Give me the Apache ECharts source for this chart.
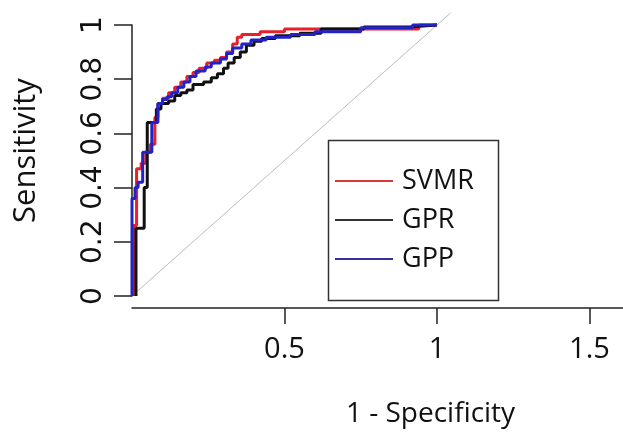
<!DOCTYPE html>
<html><head><meta charset="utf-8">
<script src="https://cdn.jsdelivr.net/npm/echarts@6/dist/echarts.min.js"></script>
<style>html,body{margin:0;padding:0;background:#fff}#c{width:623px;height:433px}</style>
</head><body><div id="c"></div>
<script>
// ---- data ----
const seriesNames = ['SVMR', 'GPR', 'GPP'];
const xTickValues = [0.5, 1, 1.5];
const yTickValues = [0, 0.2, 0.4, 0.6, 0.8, 1];
const svmrRoc = [[0.005,0],[0.005,0.26],[0.015,0.26],[0.015,0.47],[0.03,0.47],[0.03,0.49],[0.045,0.49],[0.045,0.53],[0.06,0.53],[0.06,0.56],[0.075,0.56],[0.075,0.66],[0.085,0.66],[0.085,0.71],[0.1,0.71],[0.1,0.73],[0.12,0.73],[0.12,0.75],[0.14,0.75],[0.14,0.77],[0.16,0.77],[0.16,0.79],[0.18,0.79],[0.18,0.81],[0.2,0.81],[0.2,0.825],[0.22,0.825],[0.22,0.84],[0.245,0.84],[0.245,0.86],[0.27,0.86],[0.27,0.87],[0.29,0.87],[0.29,0.88],[0.31,0.88],[0.31,0.90],[0.33,0.90],[0.33,0.93],[0.345,0.93],[0.345,0.955],[0.36,0.955],[0.36,0.965],[0.42,0.965],[0.42,0.975],[0.5,0.975],[0.5,0.985],[0.94,0.985],[0.94,1],[1,1]];
const gprRoc = [[0.013,0],[0.013,0.25],[0.04,0.25],[0.04,0.40],[0.05,0.40],[0.05,0.64],[0.08,0.64],[0.08,0.69],[0.095,0.69],[0.095,0.71],[0.12,0.71],[0.12,0.72],[0.14,0.72],[0.14,0.74],[0.16,0.74],[0.16,0.75],[0.18,0.75],[0.18,0.76],[0.2,0.76],[0.2,0.78],[0.235,0.78],[0.235,0.79],[0.26,0.79],[0.26,0.805],[0.28,0.805],[0.28,0.82],[0.3,0.82],[0.3,0.84],[0.315,0.84],[0.315,0.86],[0.335,0.86],[0.335,0.88],[0.355,0.88],[0.355,0.90],[0.375,0.90],[0.375,0.925],[0.4,0.925],[0.4,0.94],[0.425,0.94],[0.425,0.95],[0.47,0.95],[0.47,0.96],[0.55,0.96],[0.55,0.97],[0.62,0.97],[0.62,0.985],[0.76,0.985],[0.76,0.993],[0.91,0.993],[0.91,1],[1,1]];
const gppRoc = [[0,0],[0,0.36],[0.01,0.36],[0.01,0.40],[0.02,0.40],[0.02,0.42],[0.035,0.42],[0.035,0.53],[0.065,0.53],[0.065,0.64],[0.085,0.64],[0.085,0.71],[0.1,0.71],[0.1,0.725],[0.115,0.725],[0.115,0.735],[0.13,0.735],[0.13,0.75],[0.15,0.75],[0.15,0.77],[0.17,0.77],[0.17,0.79],[0.19,0.79],[0.19,0.81],[0.21,0.81],[0.21,0.83],[0.24,0.83],[0.24,0.845],[0.26,0.845],[0.26,0.86],[0.29,0.86],[0.29,0.875],[0.31,0.875],[0.31,0.895],[0.33,0.895],[0.33,0.915],[0.36,0.915],[0.36,0.93],[0.39,0.93],[0.39,0.945],[0.44,0.945],[0.44,0.955],[0.52,0.955],[0.52,0.965],[0.6,0.965],[0.6,0.975],[0.75,0.975],[0.75,0.99],[0.92,0.99],[0.92,1],[1,1]];
const diagonal = [[0,0],[1.045,1.045]];
// ---- chart ----
const chart = echarts.init(document.getElementById('c'), null, {renderer: 'canvas'});
const colors = ['#e8202a', '#111111', '#2222c8'];
const legendColors = ['#d83a3a', '#333333', '#33339a'];
const rocData = [svmrRoc, gprRoc, gppRoc];
const latin = '"Open Sans", "DejaVu Sans", sans-serif';
chart.setOption({
  animation: false,
  backgroundColor: '#ffffff',
  grid: {left: 132, right: 0, top: 25, bottom: 136, containLabel: false},
  xAxis: {
    type: 'value', min: 0, max: 491/305, offset: 12,
    name: '1 - Specificity', nameLocation: 'middle', nameGap: 92,
    nameTextStyle: {fontFamily: latin, fontSize: 28, color: '#111', padding: [0,0,0,106]},
    axisLine: {onZero: false, lineStyle: {color: '#222', width: 1.5}},
    axisTick: {customValues: xTickValues, length: 16, lineStyle: {color: '#222', width: 1.5}},
    axisLabel: {customValues: xTickValues, margin: 27, fontFamily: latin, fontSize: 29, color: '#111',
      formatter: v => String(v)},
    splitLine: {show: false}
  },
  yAxis: {
    type: 'value', min: 0, max: 1, interval: 0.2,
    name: 'Sensitivity', nameLocation: 'middle', nameGap: 90,
    nameTextStyle: {fontFamily: latin, fontSize: 31, color: '#111', padding: [0,0,0,20]},
    axisLine: {onZero: false, lineStyle: {color: '#222', width: 1.5}},
    axisTick: {length: 18, lineStyle: {color: '#222', width: 1.5}},
    axisLabel: {rotate: 90, margin: 24, fontFamily: '"DejaVu Sans", sans-serif', fontSize: 28, color: '#111',
      customValues: yTickValues, formatter: v => String(v)},
    splitLine: {show: false}
  },
  legend: {
    orient: 'vertical', left: 335, top: 162, padding: 0, icon: 'rect', itemWidth: 58, itemHeight: 2,
    itemGap: 1, data: seriesNames.map((n, i) => ({name: n, itemStyle: {color: legendColors[i]}})),
    textStyle: {fontFamily: latin, fontSize: 27, color: '#111', lineHeight: 30, padding: [0,0,8,4]}
  },
  graphic: [{type: 'rect', shape: {x: 328.5, y: 140.5, width: 170, height: 160},
    style: {fill: 'none', stroke: '#333', lineWidth: 1.5}, z: 100}],
  series: [
    {type: 'line', name: 'diag', data: diagonal, symbol: 'none', clip: false, silent: true,
     lineStyle: {color: '#bdbdbd', width: 1}, z: 1},
    ...seriesNames.map((n, i) => ({
      type: 'line', name: n, data: rocData[i], symbol: 'none', clip: false,
      lineStyle: {color: colors[i], width: 3}, itemStyle: {color: colors[i]}, z: 2 + i
    }))
  ]
});
</script></body></html>
